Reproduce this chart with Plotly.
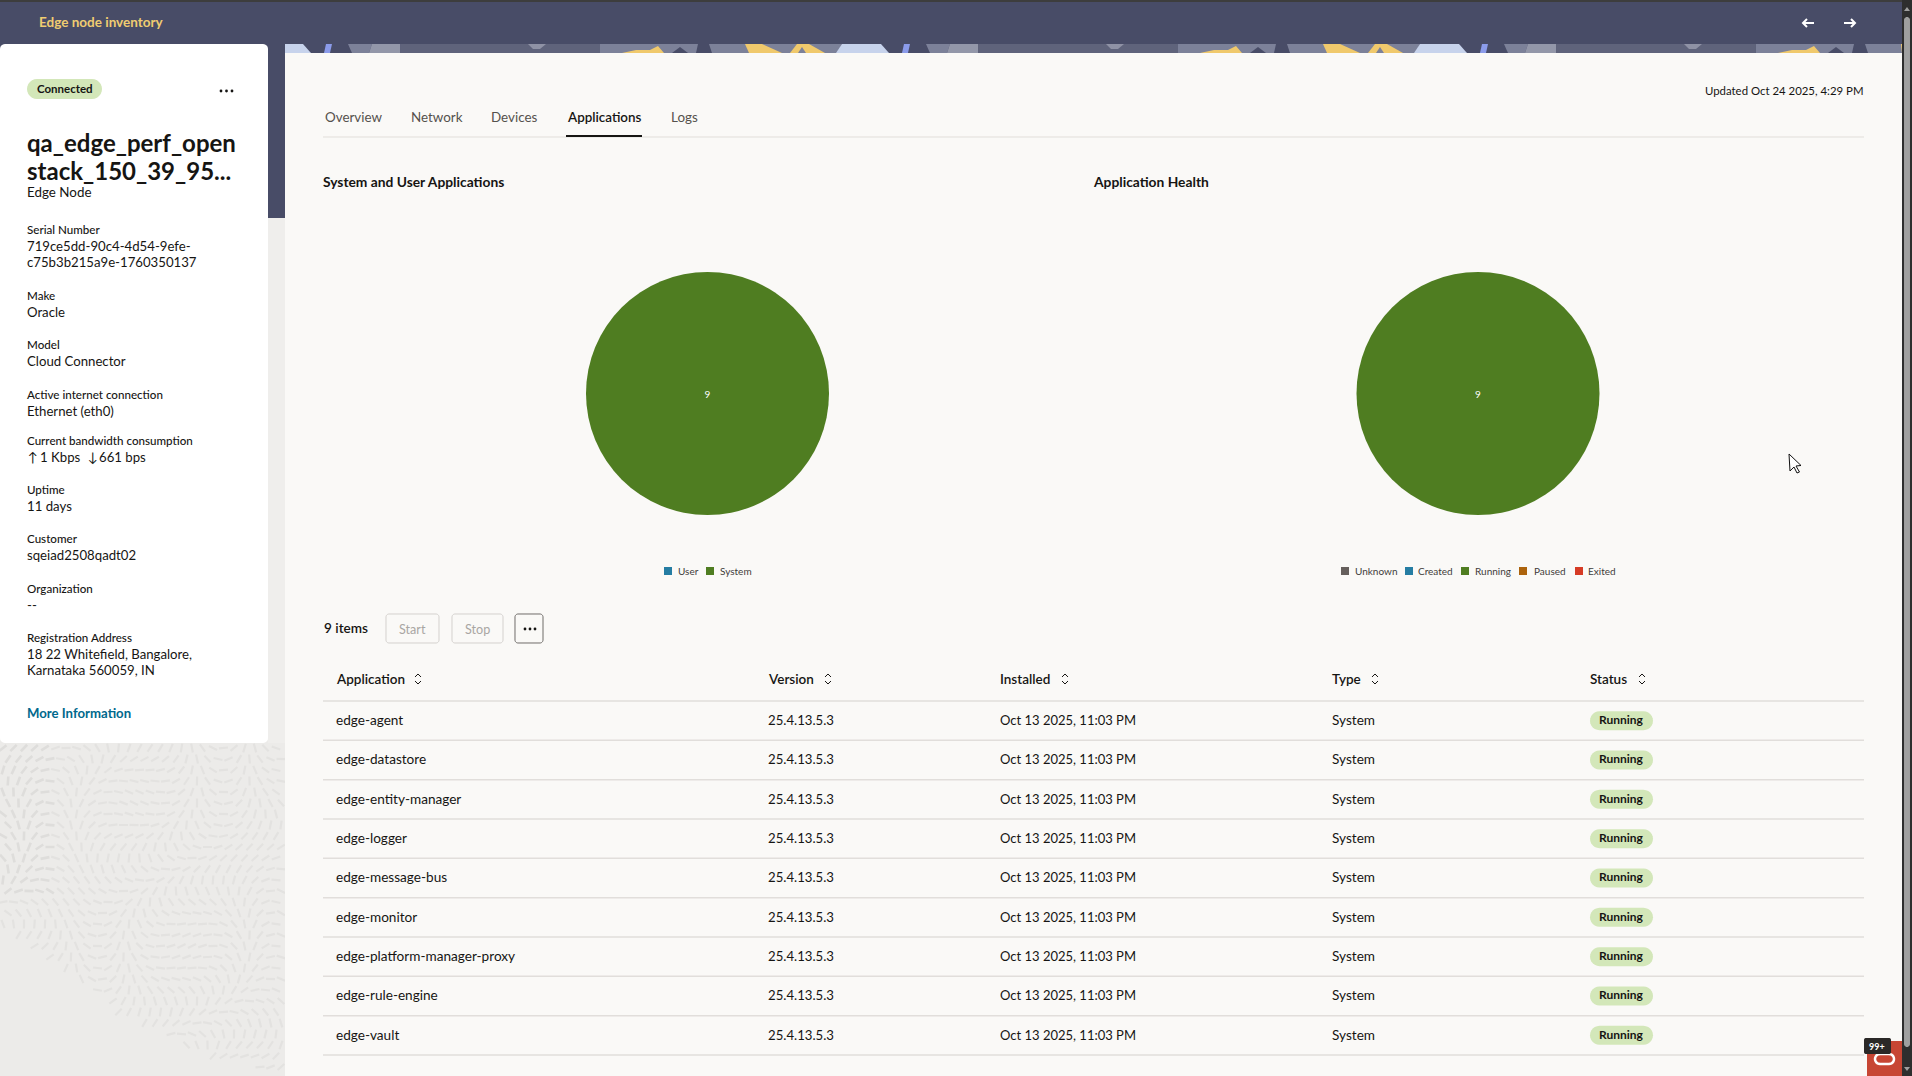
"""Edge node inventory page: two application pies, node details card and app table."""
import math

import plotly.graph_objects as go

W, H = 1912, 1076
FONT = "Lato"

# chart data
app_type_labels = ["User", "System"]
app_type_values = [0, 9]
app_type_colors = ["#257da3", "#4f7d21"]

health_labels = ["Unknown", "Created", "Running", "Paused", "Exited"]
health_values = [0, 0, 9, 0, 0]
health_colors = ["#655f5c", "#257da3", "#4f7d21", "#ac630c", "#d63b25"]

# table data
table_headers = ["Application", "Version", "Installed", "Type", "Status"]
app_names = ["edge-agent", "edge-datastore", "edge-entity-manager", "edge-logger",
             "edge-message-bus", "edge-monitor", "edge-platform-manager-proxy",
             "edge-rule-engine", "edge-vault"]
app_versions = ["25.4.13.5.3"] * 9
app_installed = ["Oct 13 2025, 11:03 PM"] * 9
app_types = ["System"] * 9
app_status = ["Running"] * 9

# details card
detail_labels = ["Serial Number", "Make", "Model", "Active internet connection",
                 "Current bandwidth consumption", "Uptime", "Customer",
                 "Organization", "Registration Address"]
detail_values = [["719ce5dd-90c4-4d54-9efe-", "c75b3b215a9e-1760350137"], ["Oracle"],
                 ["Cloud Connector"], ["Ethernet (eth0)"], [], ["11 days"],
                 ["sqeiad2508qadt02"], ["--"],
                 ["18 22 Whitefield, Bangalore,", "Karnataka 560059, IN"]]
tab_names = ["Overview", "Network", "Devices", "Applications", "Logs"]

# layout, in screen pixels
detail_y = [229.5, 295, 344.5, 394, 441, 489, 538, 588, 637]
tab_x = [324, 410, 490, 566, 670]
column_x = [335, 767, 999, 1331, 1589]
sort_icon_x = [418, 828, 1065, 1375, 1642]
legend1_x = [(664, 677), (706, 719)]
legend2_x = [(1341, 1354), (1405, 1417), (1461, 1474), (1519, 1533), (1575, 1587)]
ROW_TOP, ROW_H = 701, 39.33
PIE_R = 121.5
PIE_CY = 393.5

DARK = "#484c67"
PANEL = "#faf9f7"
INK = "#161513"
PILL = "#d3e7b9"

shapes, notes = [], []


def px(x):
    return x / W


def py(y):
    return 1 - y / H


def path(points, close=True):
    d = "M" + " L".join(f"{px(x):.5f},{py(y):.5f}" for x, y in points)
    return d + (" Z" if close else "")


def rect(x0, y0, x1, y1, fill, line=None):
    shapes.append(dict(type="rect", xref="paper", yref="paper", layer="below",
                       x0=px(x0), x1=px(x1), y0=py(y0), y1=py(y1), fillcolor=fill,
                       line=dict(color=line or fill, width=1 if line else 0)))


def poly(points, fill):
    shapes.append(dict(type="path", xref="paper", yref="paper", layer="below",
                       path=path(points), fillcolor=fill, line=dict(width=0)))


def stroke(points, color, width=1.5):
    shapes.append(dict(type="path", xref="paper", yref="paper", layer="below",
                       path=path(points, close=False), line=dict(color=color, width=width)))


def rounded(x0, y0, x1, y1, r, fill, line=None, width=1):
    # corners as short polylines, paper coordinates make arcs awkward
    pts = []
    for cx, cy, a0 in [(x1 - r, y0 + r, -90), (x1 - r, y1 - r, 0), (x0 + r, y1 - r, 90), (x0 + r, y0 + r, 180)]:
        for k in range(7):
            a = math.radians(a0 + 15 * k)
            pts.append((cx + r * math.cos(a), cy + r * math.sin(a)))
    shapes.append(dict(type="path", xref="paper", yref="paper", layer="below", path=path(pts),
                       fillcolor=fill, line=dict(color=line or fill, width=width if line else 0)))


def dot(x, y, r, color):
    shapes.append(dict(type="circle", xref="paper", yref="paper", layer="below",
                       x0=px(x - r), x1=px(x + r), y0=py(y + r), y1=py(y - r),
                       fillcolor=color, line=dict(width=0)))


def text(x, y, s, size=13.2, color=INK, weight=400, anchor="left"):
    notes.append(dict(xref="paper", yref="paper", x=px(x), y=py(y), text=s, showarrow=False,
                      xanchor=anchor, yanchor="middle", borderpad=0, align=anchor,
                      font=dict(family=FONT, size=size, color=color, weight=weight)))


def sort_icon(x, y):
    stroke([(x - 3, y - 2), (x, y - 5), (x + 3, y - 2)], INK, 1)
    stroke([(x - 3, y + 2), (x, y + 5), (x + 3, y + 2)], INK, 1)


# page background
rect(0, 0, W, H, "#ecebe9")
rect(0, 0, W, 2, "#3d3d3d")
rect(0, 2, W, 44, DARK)
rect(0, 44, 285, 218, DARK)
rect(268, 218, 285, 743, "#efeeec")

# rice-grain texture of the lower left corner, decoration only
edge = [(0, 927), (127, 1023), (217, 1063), (270, 1076), (285, 1079)]


def edge_y(x):
    for (x0, y0), (x1, y1) in zip(edge, edge[1:]):
        if x <= x1:
            return y0 + (y1 - y0) * (x - x0) / (x1 - x0)
    return H


grains, grains_dark = [], []
for j in range(30):
    for i in range(27):
        gx = 3 + i * 10.5 + (j % 2) * 5
        gy = 748 + j * 11
        if gx > 283 or gy > edge_y(gx) - 4:
            continue
        a = 2.2 * math.sin(gx / 47 + gy / 71) + 1.4 * math.cos(gy / 39 - gx / 83)
        dx, dy = 4.5 * math.cos(a), 4.5 * math.sin(a)
        seg = f"M{px(gx - dx):.5f},{py(gy - dy):.5f} L{px(gx + dx):.5f},{py(gy + dy):.5f} "
        (grains_dark if gx < 52 and gy < 895 else grains).append(seg)
shapes.append(dict(type="path", xref="paper", yref="paper", layer="below", path="".join(grains),
                   line=dict(color="#e3e2e0", width=2.2)))
shapes.append(dict(type="path", xref="paper", yref="paper", layer="below", path="".join(grains_dark),
                   line=dict(color="#dedddb", width=2.6)))

# banner strip above the panel, one tile repeated
rect(285, 44, 1902, 53, DARK)
for off in (0, 578, 1156):
    def T(pts):
        return [(min(x + off, 1902), y) for x, y in pts]
    poly(T([(285, 44), (303, 44), (311, 53), (285, 53)]), "#c7d3ec")
    poly(T([(326, 44), (332, 44), (330, 53), (324, 53)]), "#8b9bea")
    poly(T([(348, 44), (372, 44), (369, 53), (352, 53)]), "#7c8199")
    poly(T([(372, 44), (400, 44), (400, 53), (369, 53)]), "#9397a9")
    poly(T([(400, 44), (600, 44), (600, 53), (400, 53)]), "#5f637b")
    poly(T([(528, 44), (546, 44), (540, 49), (533, 49)]), "#8f92a5")
    poly(T([(600, 44), (698, 44), (696, 53), (600, 53)]), "#7c8199")
    poly(T([(622, 53), (636, 50), (650, 50), (658, 46), (664, 53)]), "#f0c96c")
    poly(T([(672, 53), (680, 47), (688, 53)]), DARK)
    poly(T([(709, 44), (822, 44), (842, 44), (838, 53), (712, 53)]), "#7c8199")
    poly(T([(745, 44), (762, 44), (782, 53), (749, 53)]), "#f0c96c")
    poly(T([(797, 44), (809, 44), (825, 53), (796, 53), (790, 53)]), "#f0c96c")
    poly(T([(802, 47), (806, 53), (798, 53)]), "#7c8199")
    poly(T([(842, 44), (872, 44), (874, 53), (836, 53)]), "#c7d3ec")

# main panel and details card
rect(285, 53, 1902, H, PANEL)
rounded(0, 44, 268, 743, 5, "#ffffff")

# header bar
text(38, 22, "Edge node inventory", 13.5, "#f0cc71", 700)
stroke([(1803, 23), (1814, 23)], "#ffffff", 2)
stroke([(1807, 19), (1803, 23), (1807, 27)], "#ffffff", 2)
stroke([(1844, 23), (1855, 23)], "#ffffff", 2)
stroke([(1851, 19), (1855, 23), (1851, 27)], "#ffffff", 2)

# details card
rounded(27, 79, 102, 99, 10, PILL)
text(64.5, 88, "Connected", 11.5, INK, 700, "center")
for dx in (-5.5, 0, 5.5):
    dot(226.5 + dx, 91, 1.4, INK)
text(26, 142, "qa_edge_perf_open", 24, INK, 700)
text(26, 171, "stack_150_39_95...", 24, INK, 700)
text(26, 192, "Edge Node", 13.4)
for label, values, y in zip(detail_labels, detail_values, detail_y):
    text(26, y, label, 11.6, INK, 500)
    for k, v in enumerate(values):
        text(26, y + 16.5 + k * 16.5, v)
text(27, 457, "↑")
text(39, 457, "1 Kbps")
text(87, 457, "↓")
text(98, 457, "661 bps")
text(26, 713, "More Information", 13.2, "#00688c", 700)

# tabs
for name, x in zip(tab_names, tab_x):
    active = name == "Applications"
    text(x, 117, name, 13.4, INK if active else "#55514d", 600 if active else 400)
stroke([(323, 137), (1864, 137)], "#e1dedb", 1)
stroke([(566, 136), (642, 136)], INK, 2)
text(1864, 91, "Updated Oct 24 2025, 4:29 PM", 11.4, INK, 400, "right")

# chart titles and legends
text(322, 182, "System and User Applications", 13.8, INK, 700)
text(1092, 182, "Application Health", 13.8, INK, 700)
for labels, colors, xs in [(app_type_labels, app_type_colors, legend1_x),
                           (health_labels, health_colors, legend2_x)]:
    for label, color, (sx, tx) in zip(labels, colors, xs):
        rect(sx, 567, sx + 8, 575, color)
        text(tx, 571, label, 10, "#3f3c3a")

# toolbar
text(323, 628, "9 items", 13.6, INK, 600)
rounded(386, 614, 439, 643, 3, PANEL, "#d4d1ce")
text(412.5, 629, "Start", 12.6, "#a9a6a3", 400, "center")
rounded(452, 614, 503, 643, 3, PANEL, "#d4d1ce")
text(477.5, 629, "Stop", 12.6, "#a9a6a3", 400, "center")
rounded(515, 614, 543, 643, 3, PANEL, "#6f6c69")
for dx in (-5, 0, 5):
    dot(530 + dx, 629, 1.4, INK)

# table
for name, x, ix in zip(table_headers, column_x, sort_icon_x):
    text(x, 679, name, 13.5, INK, 600)
    sort_icon(ix, 679)
stroke([(323, ROW_TOP), (1864, ROW_TOP)], "#e1dedb", 1.5)
for i, row in enumerate(zip(app_names, app_versions, app_installed, app_types, app_status)):
    mid = ROW_TOP + ROW_H * (i + 0.5) - 0.5
    for value, x, size in zip(row[:4], column_x, (13.6, 13.2, 13, 13.6)):
        text(x, mid, value, size)
    rounded(1590, mid - 9, 1653, mid + 10, 9.5, PILL)
    text(1621.5, mid - 0.5, row[4], 12, INK, 700, "center")
    stroke([(323, ROW_TOP + ROW_H * (i + 1)), (1864, ROW_TOP + ROW_H * (i + 1))], "#e1dedb", 1.5)

# scrollbar, assistant button, mouse pointer
rect(1902, 0, W, H, "#2e2e2e")
rounded(1904, 17, 1910, 1047, 3, "#a0a0a0")
poly([(1907, 7), (1904, 11), (1910, 11)], "#a0a0a0")
poly([(1907, 1071), (1904, 1067), (1910, 1067)], "#a0a0a0")
rect(1867, 1041, 1902, H, "#c74634")
rounded(1875, 1054, 1894, 1064, 5, "#c74634", "#ffffff", 2.5)
rounded(1864, 1038, 1891, 1054, 2, "#2a2827")
text(1877, 1046, "99+", 9, "#ffffff", 700, "center")
shapes.append(dict(type="path", xref="paper", yref="paper", layer="below",
                   path=path([(1789, 454), (1790, 471), (1794, 467), (1797, 473),
                              (1799.5, 472), (1796, 466), (1801, 465.5)]),
                   fillcolor="#ffffff", line=dict(color="#111111", width=1)))


def pie(labels, values, colors, cx):
    return go.Pie(labels=labels, values=values, sort=False, direction="clockwise",
                  marker=dict(colors=colors, line=dict(width=0)),
                  textinfo="value", textposition="inside", insidetextorientation="horizontal",
                  insidetextfont=dict(family=FONT, size=10, color="#ffffff"),
                  showlegend=False, hoverinfo="label+value",
                  domain=dict(x=[px(cx - PIE_R), px(cx + PIE_R)],
                              y=[py(PIE_CY + PIE_R), py(PIE_CY - PIE_R)]))


fig = go.Figure([pie(app_type_labels, app_type_values, app_type_colors, 707.5),
                 pie(health_labels, health_values, health_colors, 1478)])
fig.update_layout(width=W, height=H, margin=dict(l=0, r=0, t=0, b=0),
                  paper_bgcolor=PANEL, plot_bgcolor=PANEL, shapes=shapes, annotations=notes)
# the page's default body margin would push the fixed-size figure off by 8px
fig.write_html("out.html", config=dict(displayModeBar=False),
               post_script="document.body.style.margin='0';document.body.style.overflow='hidden';")
